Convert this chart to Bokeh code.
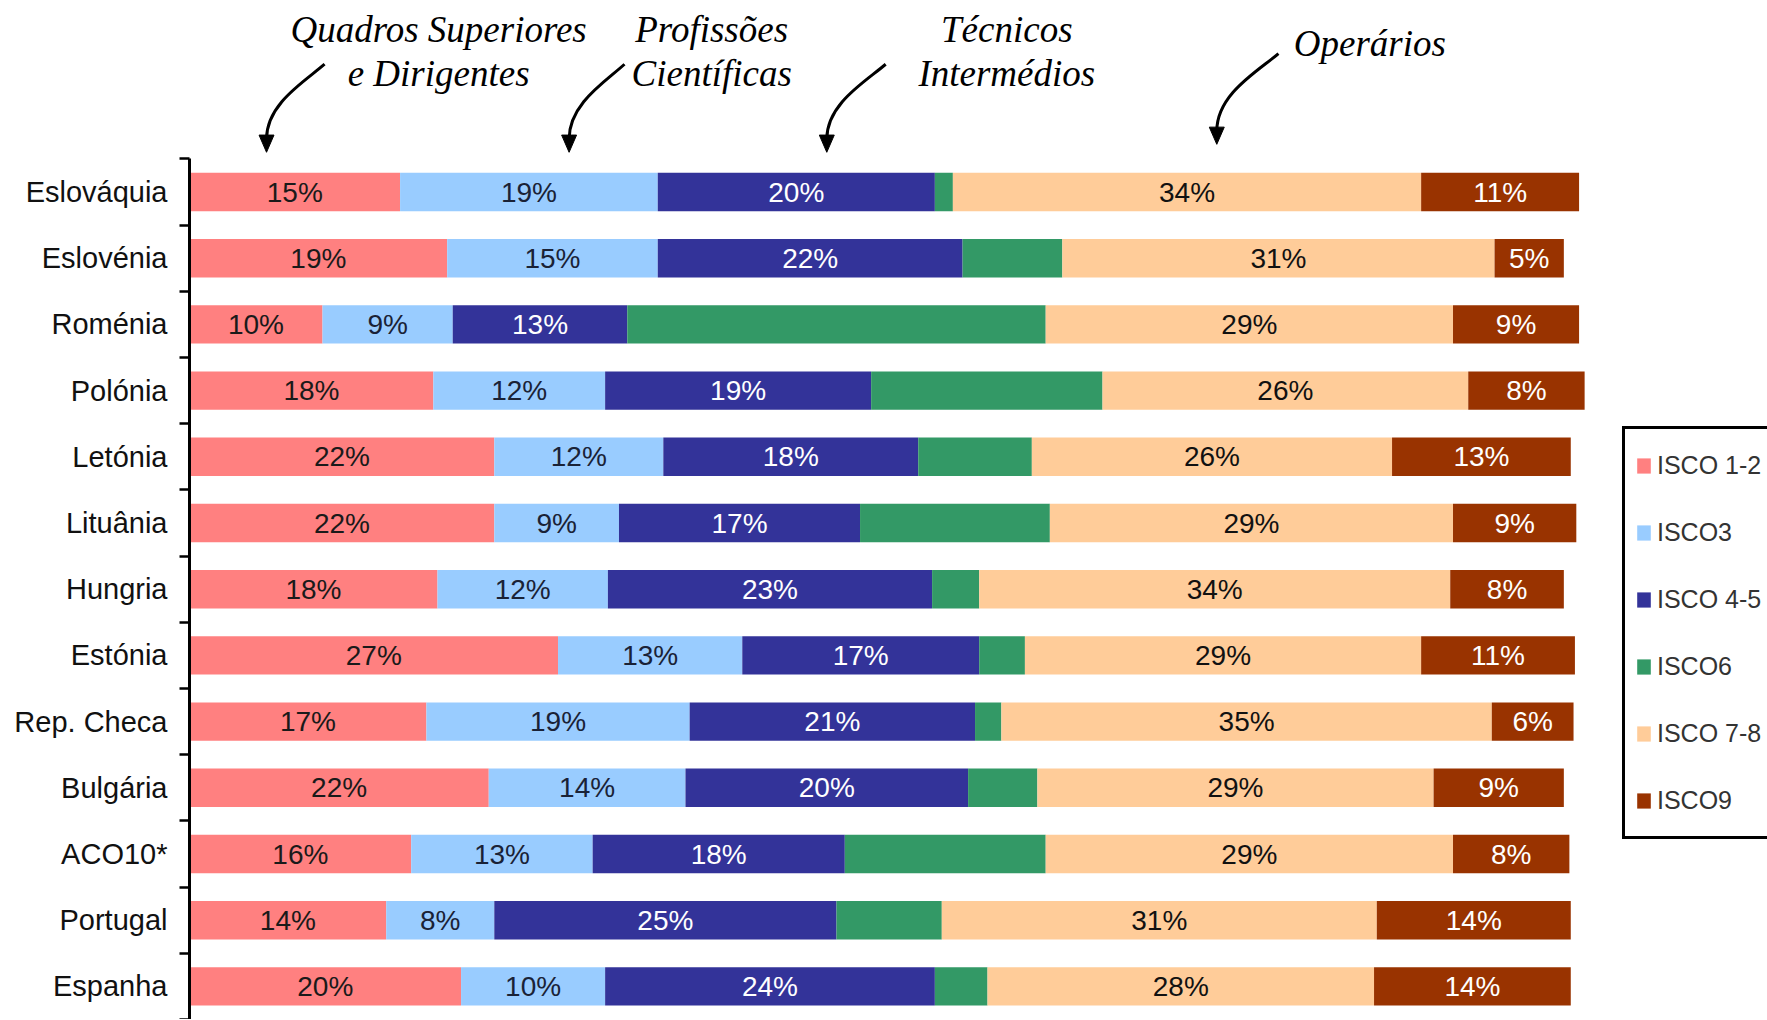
from bokeh.plotting import figure
from bokeh.models import Range1d, FixedTicker, ColumnDataSource, Legend, LegendItem
from bokeh.core.properties import value
from bokeh.embed import file_html
from bokeh.resources import INLINE

# ---------------- data ----------------
countries = ["Eslováquia", "Eslovénia", "Roménia", "Polónia", "Letónia", "Lituânia",
             "Hungria", "Estónia", "Rep. Checa", "Bulgária", "ACO10*", "Portugal", "Espanha"]
series_names = ["ISCO 1-2", "ISCO3", "ISCO 4-5", "ISCO6", "ISCO 7-8", "ISCO9"]

isco12 = [15.2, 18.6, 9.6, 17.6, 22.0, 22.0, 17.9, 26.6, 17.1, 21.6, 16.0, 14.2, 19.6]
isco3  = [18.6, 15.2, 9.4, 12.4, 12.2, 9.0, 12.3, 13.3, 19.0, 14.2, 13.1, 7.8, 10.4]
isco45 = [20.0, 22.0, 12.6, 19.2, 18.4, 17.4, 23.4, 17.1, 20.6, 20.4, 18.2, 24.7, 23.8]
isco6  = [1.3, 7.2, 30.2, 16.7, 8.2, 13.7, 3.4, 3.3, 1.9, 5.0, 14.5, 7.6, 3.8]
isco78 = [33.8, 31.2, 29.4, 26.4, 26.0, 29.1, 34.0, 28.6, 35.4, 28.6, 29.4, 31.4, 27.9]
isco9  = [11.4, 5.0, 9.1, 8.4, 12.9, 8.9, 8.2, 11.1, 5.9, 9.4, 8.4, 14.0, 14.2]

colors = ["#FF8080", "#99CCFF", "#333399", "#339966", "#FFCC99", "#993300"]
label_colors = ["#1a1a1a", "#1a2236", "#ffffff", None, "#111111", "#ffffff"]

annot_lines = ["Quadros Superiores", "e Dirigentes", "Profissões", "Científicas",
               "Técnicos", "Intermédios", "Operários"]
annot_x = [17.98, 17.98, 37.69, 37.69, 58.99, 58.99, 85.2]
annot_y = [14.45, 13.79, 14.45, 13.79, 14.45, 13.79, 14.24]

arrow_tail_x = [9.75, 31.4, 50.25, 78.6]
arrow_tail_y = [13.93, 13.93, 13.93, 14.09]
arrow_tip_x = [5.56, 27.4, 46.0, 74.15]
arrow_tip_y = [12.60, 12.60, 12.60, 12.72]

# ---------------- figure ----------------
n = len(countries)
ypos = [n - 1 - i for i in range(n)]
series = [isco12, isco3, isco45, isco6, isco78, isco9]
keys = ["s%d" % k for k in range(len(series))]

p = figure(width=1767, height=1019, output_backend="svg", toolbar_location=None,
           x_range=Range1d(0, 113.9), y_range=Range1d(-0.5, 14.772),
           x_axis_location=None, min_border_left=189, min_border_right=0,
           min_border_top=8, min_border_bottom=0)
p.outline_line_color = None
p.grid.visible = False
p.background_fill_color = "white"

src = ColumnDataSource(dict(y=ypos, **{k: s for k, s in zip(keys, series)}))
rends = p.hbar_stack(keys, y="y", height=0.58, fill_color=colors, line_color=None, source=src)

# segment labels
lx, ly, lt, lc = [], [], [], []
for i in range(n):
    left = 0.0
    for k, s in enumerate(series):
        v = s[i]
        if label_colors[k] is not None:
            lx.append(left + v / 2.0)
            ly.append(ypos[i])
            lt.append("%d%%" % int(v + 0.5))
            lc.append(label_colors[k])
        left += v
lsrc = ColumnDataSource(dict(x=lx, y=ly, t=lt, c=lc))
p.text(x="x", y="y", text="t", text_color="c", source=lsrc,
       text_align="center", text_baseline="middle",
       text_font=value("Liberation Sans"), text_font_size="28px")

# y axis
ax = p.yaxis[0]
ax.ticker = FixedTicker(ticks=ypos, minor_ticks=[k - 0.5 for k in range(n + 1)])
ax.major_label_overrides = {y: c for y, c in zip(ypos, countries)}
ax.major_tick_line_color = None
ax.major_tick_out = 0
ax.major_tick_in = 0
ax.minor_tick_out = 10
ax.minor_tick_in = 0
ax.minor_tick_line_color = "black"
ax.minor_tick_line_width = 2.5
ax.axis_line_color = "black"
ax.axis_line_width = 3
ax.bounds = (-0.5, n - 0.5)
ax.major_label_standoff = 12
ax.major_label_text_font = "Liberation Sans"
ax.major_label_text_font_size = "29px"
ax.major_label_text_color = "#111111"

# top annotations
asrc = ColumnDataSource(dict(x=annot_x, y=annot_y, t=annot_lines))
p.text(x="x", y="y", text="t", source=asrc, text_align="center",
       text_baseline="alphabetic", text_font=value("Liberation Serif"),
       text_font_style="italic", text_font_size="37px", text_color="black")

# curved arrows
x0, y0, x1, y1, cx0, cy0, cx1, cy1 = [], [], [], [], [], [], [], []
hx, hy = [], []
for tx, ty, px_, py_ in zip(arrow_tail_x, arrow_tail_y, arrow_tip_x, arrow_tip_y):
    dx = tx - px_
    dy = ty - py_
    x0.append(tx); y0.append(ty)
    x1.append(px_); y1.append(py_ + 0.2)
    cx0.append(tx - 0.35 * dx); cy0.append(ty - 0.2 * dy)
    cx1.append(px_); cy1.append(ty - 0.45 * dy)
    hx.append([px_ - 0.54, px_ + 0.54, px_])
    hy.append([py_ + 0.26, py_ + 0.26, py_])
p.bezier(x0=x0, y0=y0, x1=x1, y1=y1, cx0=cx0, cy0=cy0, cx1=cx1, cy1=cy1,
         line_color="black", line_width=3)
p.patches(xs=hx, ys=hy, fill_color="black", line_color="black", line_width=1)

# legend
items = [LegendItem(label=nm, renderers=[r]) for nm, r in zip(series_names, rends)]
legend = Legend(items=items, location=(1433, 180), border_line_color="black",
                border_line_width=3, border_line_alpha=1.0,
                background_fill_color="white", background_fill_alpha=1.0,
                padding=10, spacing=15, label_height=52, glyph_width=17, glyph_height=19,
                label_standoff=5, label_text_font="Liberation Sans",
                label_text_font_size="25px", label_text_color="#333333", margin=0)
p.add_layout(legend)

open("out.html", "w").write(file_html(p, INLINE))
